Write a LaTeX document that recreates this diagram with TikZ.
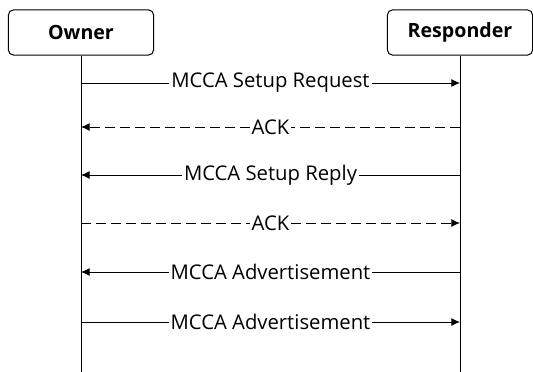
\documentclass[tikz,border=0pt]{standalone}
\usepackage{fontspec}
\setmainfont{Open Sans}
\usepackage{tikz}
\usetikzlibrary{arrows.meta, positioning}

\begin{document}
\begin{tikzpicture}[
    x=0.75pt, y=-0.75pt,
    actor/.style={draw, rounded corners=4pt, minimum width=109pt, minimum height=34pt, align=center, font=\bfseries\fontsize{14.7}{16}\selectfont, line width=0.75pt},
    life/.style={line width=0.75pt},
    msg/.style={-{Latex[length=6.5pt, width=6pt]}, line width=0.75pt},
    reply/.style={msg, dash pattern=on 7.5pt off 3.75pt},
    lbl/.style={midway, fill=white, inner sep=1.5pt, font=\fontsize{15.2}{17}\selectfont}
]
    \useasboundingbox (0,0) rectangle (533,372);

    \node[actor] (owner) at (81,32.5) {Owner};
    \node[actor] (resp) at (460,32.5) {Responder};
    \coordinate (ownerend) at (81,372);
    \coordinate (respend) at (460,372);

    \draw[life] (owner) -- (ownerend);
    \draw[life] (resp) -- (respend);

    % message points on the lifelines
    \coordinate (o1) at (81,83);   \coordinate (r1) at (460,83);
    \coordinate (o2) at (81,127);  \coordinate (r2) at (460,127);
    \coordinate (o3) at (81,175);  \coordinate (r3) at (460,175);
    \coordinate (o4) at (81,223);  \coordinate (r4) at (460,223);
    \coordinate (o5) at (81,272);  \coordinate (r5) at (460,272);
    \coordinate (o6) at (81,322);  \coordinate (r6) at (460,322);

    \draw[msg] (o1) -- (r1) node[lbl] {MCCA Setup Request};
    \draw[reply] (r2) -- (o2) node[lbl] {ACK};
    \draw[msg] (r3) -- (o3) node[lbl] {MCCA Setup Reply};
    \draw[reply] (o4) -- (r4) node[lbl] {ACK};
    \draw[msg] (r5) -- (o5) node[lbl] {MCCA Advertisement};
    \draw[msg] (o6) -- (r6) node[lbl] {MCCA Advertisement};
\end{tikzpicture}
\end{document}
